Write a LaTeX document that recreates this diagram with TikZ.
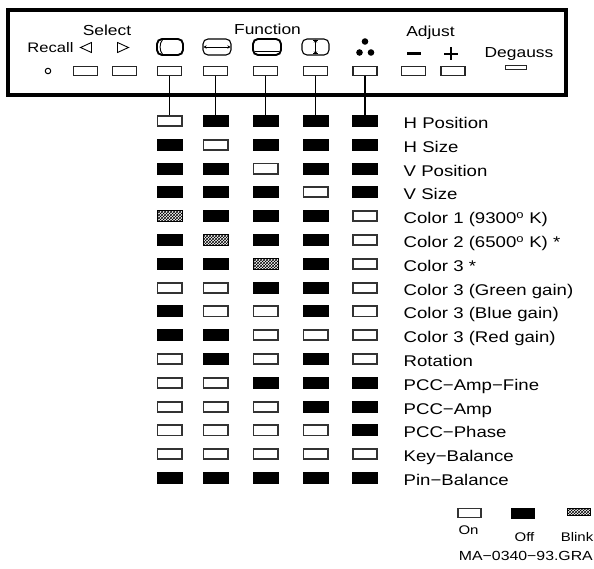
\documentclass[tikz,border=0pt]{standalone}
\usepackage{fontspec}
\setmainfont{Liberation Sans}[FakeStretch=1.2]
\usetikzlibrary{patterns,arrows.meta}
\begin{document}
\begin{tikzpicture}[x=1pt,y=-1pt,
  btn/.style={draw=black!85,line width=1.1pt,minimum width=24pt,minimum height=9pt,inner sep=0pt},
  stO/.style={draw=black!80,line width=1.9pt,minimum width=24.1pt,minimum height=10.1pt,inner sep=0pt},
  stF/.style={fill=black,minimum width=26pt,minimum height=12pt,inner sep=0pt},
  stB/.style={draw=black,line width=0.9pt,pattern=crosshatch,minimum width=25pt,minimum height=11pt,inner sep=0pt},
  head/.style={font=\fontsize{14.5}{17}\selectfont,anchor=base,inner sep=0pt},
  lab/.style={font=\fontsize{15.5}{18}\selectfont,anchor=base west,inner sep=0pt},
  leg/.style={font=\fontsize{12.5}{15}\selectfont,anchor=base,inner sep=0pt},
  conn/.style={line width=1.2pt},
  icon/.style={rounded corners=5pt}
]
\useasboundingbox (0,0) rectangle (594,569);
% panel
\draw[line width=4pt] (8,10) rectangle (566,95);
% headings
\node[head] (tsel) at (107,36) {Select};
\node[head,font=\fontsize{13.8}{16}\selectfont] (trec) at (50.5,53) {Recall};
\node[head] (tfun) at (267.5,35) {Function};
\node[head] (tadj) at (430.5,36.5) {Adjust};
\node[head] (tdeg) at (519,57.5) {Degauss};
% select arrows
\draw[line width=0.9pt,line join=miter] (91.5,42.5) -- (80.5,47.5) -- (91.5,52.5) -- cycle;
\draw[line width=0.9pt,line join=miter] (117.5,42.5) -- (128.5,47.5) -- (117.5,52.5) -- cycle;
% adjust signs
\draw[line width=2.6pt] (407,53.5) -- (421,53.5);
\draw[line width=2.6pt] (444,54) -- (458,54) (451,47.5) -- (451,60.5);
% icons
\draw[icon,line width=1.9pt] (157,39) rectangle (183,55);
\draw[line width=0.9pt] (162.5,39.8) .. controls (159.3,43) and (159.3,51) .. (162.5,54.2);
\draw[icon,line width=1.1pt] (203,39) rectangle (231,55);
\draw[{Stealth[length=3pt,width=3.5pt]}-{Stealth[length=3pt,width=3.5pt]},line width=0.8pt] (203.6,47) -- (230.4,47);
\draw[icon,line width=1.9pt] (253,39) rectangle (281,55);
\draw[line width=0.9pt] (255,51.8) -- (279,51.8);
\draw[icon,line width=1.1pt] (302,39) rectangle (329,55);
\draw[{Stealth[length=3pt,width=3.5pt]}-{Stealth[length=3pt,width=3.5pt]},line width=0.8pt] (315.5,39.6) -- (315.5,54.4);
\draw[line width=0.8pt] (313,40.2) -- (318,40.2) (313,53.8) -- (318,53.8);
\fill (365,41.5) circle (3.3pt) (359.5,52.5) circle (3.3pt) (371,52.5) circle (3.3pt);
% recall
\node[draw,circle,line width=1pt,minimum size=5.5pt,inner sep=0pt] (rec) at (48,71) {};
% buttons
\node[btn] (s1) at (85.5,71) {};
\node[btn] (s2) at (124.5,71) {};
\node[btn] (f1) at (169.5,71) {};
\node[btn] (f2) at (215.5,71) {};
\node[btn] (f3) at (265.5,71) {};
\node[btn] (f4) at (315.5,71) {};
\node[btn] (f5) at (365,71) {};
\node[btn] (a1) at (413.5,71) {};
\node[btn] (a2) at (453,71) {};
\node[btn,minimum width=21pt,minimum height=4pt] (dg) at (516,67.5) {};
% grid
\foreach \r/\states/\txt in {
  1/{O,F,F,F,F}/H Position,
  2/{F,O,F,F,F}/H Size,
  3/{F,F,O,F,F}/V Position,
  4/{F,F,F,O,F}/V Size,
  5/{B,F,F,F,O}/Color 1 (9300\textsuperscript{o} K),
  6/{F,B,F,F,O}/Color 2 (6500\textsuperscript{o} K) *,
  7/{F,F,B,F,O}/Color 3 *,
  8/{O,O,F,F,O}/Color 3 (Green gain),
  9/{F,O,O,F,O}/Color 3 (Blue gain),
  10/{F,F,O,O,O}/Color 3 (Red gain),
  11/{O,F,O,F,O}/Rotation,
  12/{O,O,F,F,F}/PCC−Amp−Fine,
  13/{O,O,O,F,F}/PCC−Amp,
  14/{O,O,O,O,F}/PCC−Phase,
  15/{O,O,O,O,O}/Key−Balance,
  16/{F,F,F,F,F}/Pin−Balance}{
  \pgfmathsetmacro{\yy}{121+(\r-1)*23.8}
  \foreach \s/\xx [count=\j] in \states {
    \pgfmathsetmacro{\cx}{{169.5,215.5,265.5,315.5,365}[\j-1]}
    \node[st\s] (r\r c\j) at (\cx,\yy) {};
  }
  \node[lab] (l\r) at (403.5,\yy+7.5) {\txt};
}
% connectors
\foreach \j in {1,...,5} { \draw[conn] (f\j.south) -- (r1c\j.north); }
% legend
\node[stO,minimum width=22.5pt,minimum height=9pt] (kon) at (469.5,513) {};
\node[stF,minimum width=24pt,minimum height=11pt] (koff) at (523,513) {};
\node[stB,minimum width=23pt,minimum height=7.5pt] (kbl) at (579,512) {};
\node[leg] (ton) at (468.5,534) {On};
\node[leg] (toff) at (524.5,541) {Off};
\node[leg] (tbl) at (577,541) {Blink};
\node[leg,font=\fontsize{13.2}{15}\selectfont,anchor=base east] (tma) at (593,560) {MA−0340−93.GRA};
\end{tikzpicture}
\end{document}
